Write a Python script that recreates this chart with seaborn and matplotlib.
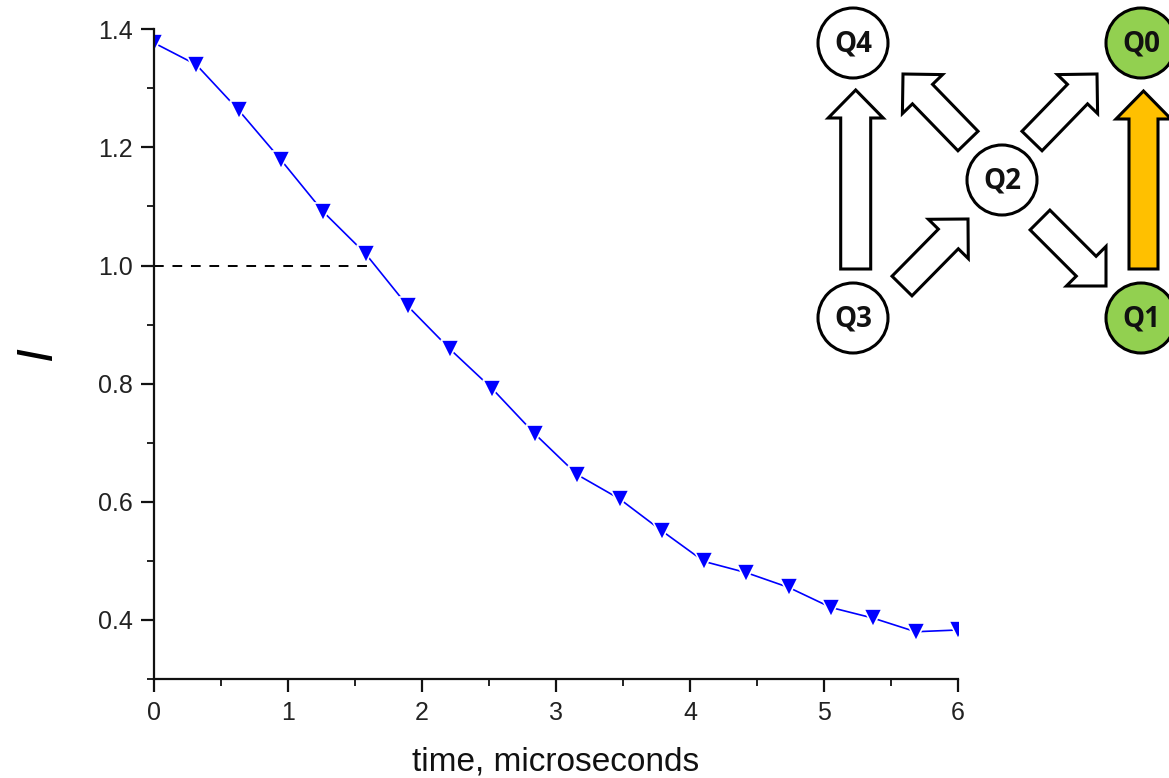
import matplotlib
matplotlib.use("Agg")
import matplotlib.pyplot as plt
import matplotlib.patches as mpatches
from matplotlib.ticker import MultipleLocator
import seaborn as sns
import pandas as pd

# ---- data ----
time_us = [0.0, 0.316, 0.632, 0.947, 1.263, 1.579, 1.895, 2.211, 2.526, 2.842,
           3.158, 3.474, 3.789, 4.105, 4.421, 4.737, 5.053, 5.368, 5.684, 6.0]
intensity = [1.377, 1.340, 1.263, 1.179, 1.091, 1.020, 0.931, 0.858, 0.791, 0.715,
             0.646, 0.605, 0.551, 0.499, 0.480, 0.455, 0.421, 0.403, 0.380, 0.383]
threshold_y = 1.0
threshold_x_end = 1.66

x_ticks = [0, 1, 2, 3, 4, 5, 6]
y_ticks = [0.4, 0.6, 0.8, 1.0, 1.2, 1.4]
x_label = "time, microseconds"
y_label = "I"

# diagram nodes (labels, fill)
node_labels = ["Q0", "Q1", "Q2", "Q3", "Q4"]
node_fill = ["#92D050", "#92D050", "white", "white", "white"]

df = pd.DataFrame({"t": time_us, "I": intensity})

sns.set_style("ticks")
plt.rcParams["font.family"] = ["Liberation Sans", "DejaVu Sans"]

W, H = 1169, 778
fig = plt.figure(figsize=(W / 100, H / 100), dpi=100)
ax = fig.add_axes([154 / W, 1 - 679 / H, (958 - 154) / W, (679 - 29.3) / H])

sns.lineplot(data=df, x="t", y="I", ax=ax, color="#0000FF", linewidth=1.2,
             marker="v", markersize=13, markeredgecolor="white",
             markeredgewidth=1.2, markerfacecolor="#0000FF", clip_on=True)
ax.plot([0, threshold_x_end], [threshold_y, threshold_y], color="black",
        linestyle=(0, (5, 4.5)), linewidth=1.4, zorder=1)

ax.set_xlim(0, 6)
ax.set_ylim(0.3, 1.4)
ax.set_xticks(x_ticks)
ax.set_yticks(y_ticks)
ax.set_xticklabels([str(v) for v in x_ticks])
ax.set_yticklabels([f"{v:.1f}" for v in y_ticks])
ax.xaxis.set_minor_locator(MultipleLocator(0.5))
ax.yaxis.set_minor_locator(MultipleLocator(0.1))
for s in ["top", "right"]:
    ax.spines[s].set_visible(False)
for s in ["left", "bottom"]:
    ax.spines[s].set_linewidth(1.6)
    ax.spines[s].set_color("#111111")
ax.tick_params(axis="both", which="major", direction="out", length=9.5, width=1.6,
               labelsize=18, colors="#111111", labelcolor="#222222", pad=6)
ax.tick_params(axis="both", which="minor", direction="out", length=5, width=1.3,
               colors="#111111")
ax.set_xlabel(x_label, fontsize=24, labelpad=16, color="#111111")
ax.set_ylabel(y_label, fontsize=36, style="italic", labelpad=26, color="black")

# ---- diagram overlay in pixel coordinates ----
ov = fig.add_axes([0, 0, 1, 1], zorder=5)
ov.set_xlim(0, W)
ov.set_ylim(H, 0)
ov.axis("off")
ov.patch.set_alpha(0)

node_pos = {"Q0": (1141, 43), "Q1": (1141, 318), "Q2": (1002, 180),
            "Q3": (853, 318), "Q4": (853, 43)}
for lab, fc in zip(node_labels, node_fill):
    cx, cy = node_pos[lab]
    ov.add_patch(mpatches.Circle((cx, cy), 35, facecolor=fc, edgecolor="black",
                                 linewidth=2.2, clip_on=False))
    ov.text(cx, cy + 1, lab, ha="center", va="center", fontsize=20,
            fontweight="bold", family=["Open Sans", "DejaVu Sans"], color="#111111")

arrows = [
    ((855.7, 269), (855.7, 90), "white", 30, 55, 28),
    ((1143.5, 269), (1143.5, 91), "#FFC000", 29, 55, 28),
    ((968, 141), (903, 74), "white", 28, 56, 28),
    ((1032, 141), (1097, 74), "white", 28, 56, 28),
    ((902, 286), (968, 219), "white", 28, 56, 28),
    ((1040, 220), (1106, 286), "white", 28, 56, 28),
]
for (x0, y0), (x1, y1), fc, w, hw, hl in arrows:
    ov.add_patch(mpatches.FancyArrow(x0, y0, x1 - x0, y1 - y0, width=w,
                                     head_width=hw, head_length=hl,
                                     length_includes_head=True, facecolor=fc,
                                     edgecolor="black", linewidth=2.2,
                                     joinstyle="miter"))

fig.savefig("out.png", dpi=100)
